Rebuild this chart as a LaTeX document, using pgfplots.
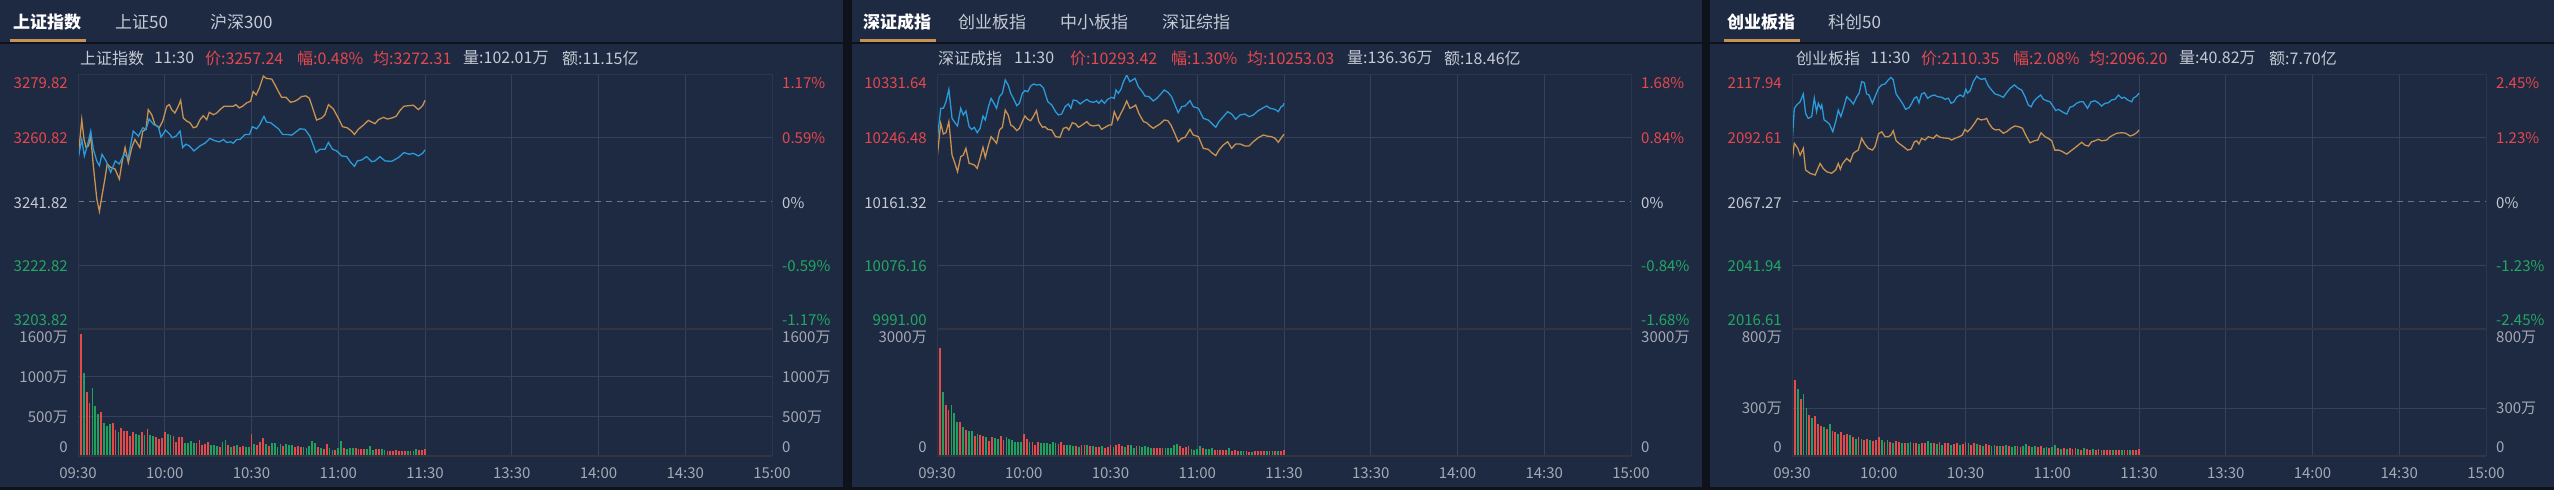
\documentclass[border=0pt]{standalone}
\usepackage{pgfplots}
\pgfplotsset{compat=1.18}
\usepackage{pgfplotstable}
\usepgfplotslibrary{fillbetween}
\usepackage{fontspec}
\setmainfont{Noto Sans CJK SC}

\definecolor{bgc}{HTML}{1E2942}
\definecolor{darkc}{HTML}{0D121B}
\definecolor{gridc}{HTML}{35405C}
\definecolor{framec}{HTML}{2C3549}
\definecolor{sepc}{HTML}{30353F}
\definecolor{bluec}{HTML}{2A9AD8}
\definecolor{orangec}{HTML}{C8924F}
\definecolor{redc}{HTML}{E5484D}
\definecolor{greenc}{HTML}{22A864}
\definecolor{barred}{HTML}{E44A4A}
\definecolor{bargreen}{HTML}{1FA05C}
\definecolor{txtc}{HTML}{C5CBD5}
\definecolor{labc}{HTML}{A3A9B5}
\definecolor{dashc}{HTML}{6E7482}
\definecolor{tabc}{HTML}{C89158}
\definecolor{fillA}{HTML}{22345C}

\newcommand\tabf{\fontsize{17}{20}\selectfont}
\newcommand\infof{\fontsize{16}{19}\selectfont}
\newcommand\labf{\fontsize{15}{18}\selectfont}

\tikzset{gline/.style={draw=gridc, line width=1pt}}
\pgfplotsset{
  base/.style={scale only axis, width=694pt, xmin=0, xmax=240, anchor=south west,
    axis line style={draw=none}, major tick length=0pt,
    xtick={30,60,...,210}, xticklabels={}, yticklabels={},
    major grid style={draw=gridc, line width=1pt}},
  pricepane/.style={base, height=255pt, ytick=\empty, xtick=\empty},
  volpane/.style={base, height=127pt, ymin=0, grid=major},
  pline/.style={bluec, line width=1.3pt, no marks},
  aline/.style={orangec, line width=1.3pt, no marks},
  vbar/.style={ycomb, no marks, line width=1.8pt},
  hidden/.style={draw=none, forget plot},
}

% ---------- 上证指数 ----------
\pgfplotstableread{
m p
0 3254.4
1.3 3260.3
2.2 3255.4
3.2 3258.4
4.4 3262.8
5.3 3257.4
6.5 3253.9
7.4 3252.5
8.3 3255.9
9.7 3253.9
11.3 3250.5
12.9 3253.9
14.3 3253.0
15.9 3255.9
17.4 3254.9
19.1 3262.8
20.9 3261.3
22.4 3263.8
23.5 3263.3
24.6 3266.4
26.1 3264.8
27.8 3264.1
28.7 3261.0
30.3 3263.1
31.8 3261.8
32.6 3260.8
33.9 3261.3
35.3 3262.8
36.2 3257.9
37.3 3258.9
38.5 3258.4
40.1 3256.9
42.2 3258.4
43.9 3259.2
45.6 3260.6
47.4 3259.9
48.9 3259.6
50.3 3260.3
51.4 3259.4
52.8 3259.6
53.7 3259.2
54.9 3260.3
56.0 3260.3
57.8 3261.8
59.3 3261.8
60.3 3264.1
61.8 3263.5
62.9 3264.8
64.3 3267.2
65.2 3265.5
66.6 3265.3
68.1 3264.3
69.3 3263.5
70.8 3261.8
72.2 3261.8
73.9 3261.6
75.0 3262.3
76.8 3263.5
78.5 3263.3
80.2 3261.3
82.3 3256.4
83.7 3257.4
85.4 3257.4
86.6 3259.4
88.0 3257.4
89.5 3256.9
91.2 3255.4
92.9 3255.2
94.3 3253.5
95.6 3252.3
96.6 3253.9
98.1 3254.2
99.8 3255.2
101.6 3253.7
102.7 3253.9
104.4 3255.2
106.2 3253.9
108.5 3253.8
110.8 3254.9
112.7 3256.4
114.6 3255.9
115.9 3256.2
117.7 3255.4
119.2 3256.2
120 3257.2
}\pA
\pgfplotstableread{
m p
0 3254.4
1.3 3266.2
2.1 3260.3
2.8 3257.9
3.6 3258.4
4.4 3261.3
5.3 3252.5
6.5 3242.6
7.4 3238.9
8.3 3243.6
9.3 3248.5
10.1 3253.0
11.3 3252.0
12.8 3251.5
14.3 3248.5
15.2 3253.4
16.3 3257.9
17.4 3253.4
18.6 3257.9
19.7 3260.3
21.4 3257.9
22.4 3262.8
23.5 3263.3
24.3 3269.2
25.5 3267.7
26.6 3264.8
28.1 3263.8
29.3 3265.8
30.7 3270.2
31.6 3270.7
32.4 3269.2
33.5 3268.2
34.7 3270.2
35.5 3272.0
36.4 3266.7
37.6 3265.8
38.7 3265.3
39.9 3263.8
41.0 3264.1
42.2 3266.2
43.3 3267.4
44.5 3266.2
45.4 3268.4
46.8 3267.7
48.0 3268.2
49.1 3269.2
50.5 3270.2
52.0 3270.2
53.7 3270.2
54.6 3270.7
55.8 3269.7
56.9 3270.2
58.3 3271.2
59.7 3271.7
60.6 3274.6
61.6 3273.6
62.7 3275.6
64.1 3279.2
65.2 3278.5
67.0 3278.3
68.1 3276.6
69.3 3274.6
70.4 3272.9
71.9 3272.9
73.5 3271.4
75.0 3271.7
76.2 3272.3
77.3 3273.1
78.8 3273.3
80.0 3272.6
81.4 3269.0
82.5 3266.1
84.3 3266.7
85.4 3267.7
86.6 3270.7
88.3 3269.4
90.0 3266.7
91.5 3264.1
93.1 3263.8
94.6 3262.8
95.6 3261.8
96.9 3263.3
98.7 3264.6
100.4 3266.0
101.6 3265.5
102.7 3265.0
103.9 3266.2
105.6 3266.9
107.0 3266.4
108.5 3266.7
110.0 3267.2
111.4 3269.0
112.7 3270.2
114.6 3270.4
116.0 3270.5
117.7 3269.2
119.2 3270.4
120 3272.0
}\aA

% ---------- 深证成指 ----------
\pgfplotstableread{
m p
0 10241.2
1.3 10285.8
2.2 10285.8
3.1 10294.7
4.1 10311.2
5.2 10272.4
6.2 10266.6
7.1 10262.2
8.2 10285.8
9.1 10276.9
10.0 10282.2
11.1 10261.3
12.0 10257.7
12.9 10260.4
13.9 10253.3
14.9 10259.1
15.9 10275.5
16.7 10270.2
17.8 10288.0
18.7 10299.1
19.7 10292.5
20.6 10285.8
21.6 10301.4
22.6 10305.8
23.6 10323.6
24.6 10316.9
25.5 10305.8
26.4 10299.1
27.6 10289.3
28.5 10292.5
29.5 10305.8
30.4 10309.4
31.4 10308.1
32.4 10315.6
33.4 10318.3
34.4 10316.9
35.6 10317.5
36.8 10313.0
38.3 10294.7
39.7 10290.2
41.0 10281.3
42.0 10276.9
43.1 10278.2
44.3 10288.0
45.4 10291.6
46.3 10285.8
47.1 10296.9
48.3 10296.0
49.5 10291.6
50.6 10294.7
51.8 10297.8
52.9 10294.7
54.1 10293.8
55.2 10295.6
56.0 10292.5
56.9 10296.9
57.9 10292.5
59.0 10297.8
60.4 10300.5
61.3 10299.1
61.9 10310.3
62.7 10305.8
63.6 10311.2
64.5 10321.4
65.6 10330.3
66.7 10321.4
67.6 10323.6
68.5 10325.8
69.6 10314.7
71.0 10308.1
71.9 10302.3
73.3 10301.4
74.8 10295.6
76.0 10299.1
77.1 10303.6
78.6 10310.3
80.0 10306.7
81.1 10301.4
82.3 10290.2
83.4 10280.0
84.6 10288.0
85.8 10288.9
87.5 10296.0
88.6 10288.0
90.4 10285.8
92.1 10272.4
93.8 10270.2
95.0 10265.7
96.4 10260.4
97.5 10268.0
99.0 10274.6
100.5 10281.3
101.9 10278.2
103.3 10271.1
104.8 10276.9
106.5 10278.2
107.9 10274.6
109.4 10276.9
111.1 10282.7
112.9 10286.7
114.0 10288.9
115.2 10285.8
116.9 10284.4
118.0 10281.3
119.0 10288.0
119.6 10288.9
120 10292.5
}\pB
\pgfplotstableread{
m p
0 10219.0
1.3 10265.7
2.2 10251.5
3.1 10253.3
4.1 10268.0
5.2 10223.4
6.2 10212.3
7.1 10201.2
8.2 10221.2
9.1 10223.4
10.0 10232.3
11.1 10212.3
12.0 10211.4
12.9 10210.1
13.9 10205.6
14.9 10219.0
15.9 10233.7
16.7 10220.3
17.8 10236.8
18.7 10247.9
19.7 10243.5
20.6 10239.0
21.6 10256.8
22.6 10260.4
23.6 10283.5
24.6 10276.9
25.5 10263.5
26.4 10261.3
27.6 10256.0
28.5 10259.1
29.5 10268.0
30.4 10275.5
31.4 10271.1
32.4 10269.3
33.4 10275.5
34.4 10282.7
35.2 10268.0
36.5 10260.4
37.3 10261.3
38.3 10257.7
39.7 10256.8
41.0 10247.9
42.5 10247.1
43.7 10259.1
44.8 10260.4
45.6 10256.8
46.8 10266.6
48.0 10264.8
48.9 10260.4
50.2 10263.5
51.8 10268.0
52.9 10263.5
54.1 10262.2
55.2 10263.1
56.0 10263.5
56.9 10257.7
58.1 10260.4
59.5 10263.5
60.4 10263.5
61.3 10281.3
62.5 10270.2
63.6 10279.1
64.5 10285.8
65.6 10295.6
66.7 10285.8
67.9 10288.0
68.7 10290.2
69.8 10279.1
71.4 10268.0
72.5 10266.6
73.7 10262.2
74.8 10259.1
76.0 10262.2
77.1 10264.8
78.6 10270.2
79.8 10269.3
80.9 10263.5
82.3 10251.5
83.4 10241.2
84.6 10245.7
85.8 10247.1
87.5 10257.7
88.6 10250.2
90.4 10247.9
92.1 10232.3
93.8 10231.0
95.0 10226.6
96.4 10222.6
97.5 10230.1
99.0 10236.8
100.5 10241.2
101.9 10232.3
103.3 10238.2
104.8 10238.2
106.5 10235.5
107.9 10235.5
109.4 10241.2
111.1 10246.6
112.9 10250.2
114.0 10248.8
115.7 10247.9
116.9 10245.7
118.0 10240.4
119.2 10247.1
120 10251.1
}\aB

% ---------- 创业板指 ----------
\pgfplotstableread{
m p
0 2089.7
0.8 2104.3
1.6 2105.6
2.8 2106.9
3.9 2110.0
4.7 2102.3
5.6 2100.3
6.8 2101.0
7.7 2108.3
8.5 2103.0
9.1 2106.3
9.9 2104.3
10.3 2105.6
11.1 2099.7
12.0 2099.0
12.9 2098.1
14.1 2095.0
15.1 2099.0
16.0 2103.6
16.9 2101.0
17.8 2104.3
18.9 2108.9
20.1 2107.6
21.2 2106.0
22.4 2108.9
23.2 2110.3
24.1 2114.9
25.0 2114.5
25.8 2110.0
26.6 2109.6
27.8 2106.3
28.7 2108.9
29.9 2112.2
31.0 2113.6
32.2 2114.0
33.3 2115.6
34.2 2116.6
35.0 2115.6
36.0 2110.0
37.0 2108.3
38.2 2106.3
39.3 2103.9
40.5 2104.6
41.4 2106.3
42.3 2108.3
43.1 2108.9
43.9 2106.5
44.8 2110.0
45.8 2110.5
46.9 2108.3
48.1 2109.2
49.2 2109.6
50.4 2108.9
51.8 2108.7
52.9 2107.9
54.1 2108.3
55.0 2106.3
56.0 2106.9
56.9 2108.7
58.1 2109.6
59.3 2108.9
60.1 2111.9
60.7 2110.3
61.6 2111.3
62.7 2114.9
63.9 2117.1
64.7 2116.2
65.6 2115.8
66.7 2116.2
67.9 2113.2
69.0 2111.6
70.2 2110.0
71.4 2109.6
73.1 2108.7
74.2 2110.5
75.4 2112.2
76.9 2113.6
78.3 2112.2
79.4 2111.6
80.6 2108.9
81.7 2105.6
82.7 2104.9
83.5 2106.9
84.6 2108.3
86.0 2109.6
86.9 2107.9
88.1 2107.3
89.2 2106.9
90.4 2104.9
91.2 2103.4
92.1 2103.9
93.3 2103.0
95.0 2102.0
96.1 2104.7
97.3 2105.2
98.4 2106.3
99.6 2106.9
100.7 2106.9
102.2 2104.3
103.4 2106.9
104.8 2107.3
105.9 2106.5
107.1 2105.2
108.2 2106.3
109.4 2106.5
110.5 2107.6
111.7 2107.9
112.9 2109.6
114.0 2108.3
114.9 2108.7
116.1 2107.6
117.5 2106.9
118.0 2108.3
119.2 2109.2
120 2110.3
}\pC
\pgfplotstableread{
m p
0 2083.1
0.8 2090.4
2.0 2088.4
2.8 2085.7
3.9 2088.4
4.7 2079.8
6.2 2078.5
8.0 2077.8
9.7 2082.4
10.8 2080.4
12.0 2079.1
13.7 2078.5
15.1 2079.8
16.0 2082.4
16.7 2080.1
17.4 2082.2
18.9 2084.4
20.1 2083.1
21.2 2086.4
22.0 2087.1
22.9 2087.7
24.1 2092.4
25.2 2090.1
26.4 2088.4
27.8 2087.7
28.7 2089.1
29.9 2094.1
31.0 2095.0
32.2 2093.0
33.3 2093.0
34.2 2093.7
35.0 2095.4
36.0 2091.4
37.3 2090.1
38.5 2089.1
40.0 2087.7
41.2 2088.1
42.3 2091.0
43.1 2091.4
43.9 2090.1
44.8 2092.4
46.0 2091.7
47.1 2093.0
48.9 2092.4
50.0 2093.7
51.2 2092.8
52.7 2092.5
54.1 2092.4
55.2 2091.7
56.4 2092.4
57.8 2093.0
58.9 2093.7
59.8 2095.9
60.7 2095.0
61.9 2096.4
63.1 2098.3
64.2 2100.3
65.4 2099.7
66.5 2099.9
67.3 2100.3
68.1 2098.3
69.3 2096.4
70.4 2095.7
71.6 2095.9
73.1 2094.4
74.2 2095.0
75.7 2096.4
77.1 2097.3
78.3 2097.0
79.7 2096.4
80.8 2093.7
82.3 2090.6
83.8 2091.4
85.0 2091.7
86.1 2094.6
87.5 2093.0
88.6 2092.4
89.8 2091.4
90.9 2087.7
92.3 2087.7
93.5 2087.1
95.0 2086.1
96.1 2087.1
97.6 2088.4
99.0 2089.7
100.2 2090.8
101.3 2089.7
102.5 2089.3
103.6 2091.0
104.8 2091.4
105.9 2092.0
107.1 2091.4
108.8 2091.7
110.0 2093.0
111.1 2093.7
112.3 2094.4
114.0 2094.6
115.4 2094.4
116.9 2093.3
118.0 2093.7
119.2 2094.6
120 2095.7
}\aC

\newcommand\ylabs[8]{%
  \node[anchor=east,redc] at (#1-10,83) {#2};
  \node[anchor=east,redc] at (#1-10,138) {#3};
  \node[anchor=east,txtc] at (#1-10,203) {#4};
  \node[anchor=east,greenc] at (#1-10,266) {#5};
  \node[anchor=east,greenc] at (#1-10,320) {#6};
  \node[anchor=west,redc] at (#1+704,83) {#7\%};
  \node[anchor=west,redc] at (#1+704,138) {#8\%};
  \node[anchor=west,txtc] at (#1+704,203) {0\%};
  \node[anchor=west,greenc] at (#1+704,266) {-#8\%};
  \node[anchor=west,greenc] at (#1+704,320) {-#7\%};
}
\newcommand\timelabs[1]{%
  \foreach \k/\t in {0/09:30,1/10:00,2/10:30,3/11:00,4/11:30,5/13:30,6/14:00,7/14:30,8/15:00}
    {\node[labc] at ({#1+\k*86.75},473) {\t};}
}
\newcommand\vlab[3]{%
  \node[anchor=east,labc] at (#1-10,#2) {#3};
  \node[anchor=west,labc] at (#1+704,#2) {#3};
}
\newcommand\frames[1]{%
  \draw[framec,line width=1pt] (#1,74.5) -- (#1+694,74.5);
  \draw[framec,line width=1pt] (#1+0.5,74) -- (#1+0.5,456);
  \draw[framec,line width=1pt] (#1+694,74) -- (#1+694,456);
  \draw[sepc,line width=2pt] (#1,329) -- (#1+694,329);
  \draw[sepc,line width=1.5pt] (#1,456) -- (#1+694,456);
}

\begin{document}
\begin{tikzpicture}[x=1pt,y=-1pt, every node/.style={font=\labf, inner sep=0pt}]
\fill[darkc] (0,0) rectangle (2554,490);
\fill[bgc] (0,0) rectangle (843,487);
\fill[bgc] (852,0) rectangle (1702,487);
\fill[bgc] (1710,0) rectangle (2554,487);
\fill[darkc] (0,41.5) rectangle (2554,44);

% ===== panel 1 =====
\begin{axis}[pricepane, at={(78pt,-329pt)}, ymin=3203.82, ymax=3279.82]
  \addplot[hidden, name path=p1] table {\pA};
  \addplot[hidden, name path=b1] coordinates {(0,3203.82) (120,3203.82)};
  \addplot[fill=fillA, draw=none] fill between[of=p1 and b1];
  \pgfplotsinvokeforeach{30,60,90,120,150,180,210}{\draw[gline] (axis cs:#1,3203.82) -- (axis cs:#1,3279.82);}
  \draw[gline] (axis cs:0,3222.82) -- (axis cs:240,3222.82);
  \draw[gline] (axis cs:0,3260.82) -- (axis cs:240,3260.82);
  \draw[dashc, dash pattern=on 6pt off 5pt, line width=1pt] (axis cs:0,3241.82) -- (axis cs:240,3241.82);
  \addplot[aline] table {\aA};
  \addplot[pline] table {\pA};
\end{axis}
\begin{axis}[volpane, at={(78pt,-456pt)}, ymax=1600, ytick={500,1000}]
  \addplot[vbar, barred] coordinates {(0,490) (1,1538) (3,809) (4,669) (8,551) (12,415) (13,322) (15,352) (16,318) (17,318) (18,254) (19,301) (22,305) (24,343) (27,237) (28,212) (29,233) (30,301) (33,246) (34,178) (35,242) (36,237) (41,161) (42,203) (43,144) (44,153) (45,174) (49,119) (52,136) (54,127) (56,119) (57,127) (60,275) (62,136) (63,182) (64,225) (66,127) (71,131) (75,119) (76,127) (77,119) (83,119) (85,93) (86,153) (89,76) (92,102) (96,102) (97,93) (98,89) (99,89) (103,89) (104,85) (107,64) (108,64) (109,64) (110,76) (111,64) (112,64) (113,64) (115,64) (118,76) (119,76) (120,93)};
  \addplot[vbar, bargreen] coordinates {(2,1051) (5,852) (6,627) (7,525) (9,415) (10,373) (11,403) (14,297) (20,275) (21,267) (23,263) (25,263) (26,258) (31,280) (32,267) (37,165) (38,161) (39,191) (40,169) (46,140) (47,136) (48,123) (50,182) (51,203) (53,119) (55,136) (58,119) (59,119) (61,153) (65,153) (67,161) (68,161) (69,119) (70,153) (72,148) (73,136) (74,144) (78,114) (79,97) (80,127) (81,195) (82,169) (84,106) (87,97) (88,76) (90,97) (91,186) (93,89) (94,102) (95,102) (100,85) (101,127) (102,76) (105,89) (106,76) (114,68) (116,68) (117,93)};
\end{axis}

% ===== panel 2 =====
\begin{axis}[pricepane, at={(937pt,-329pt)}, ymin=9991.00, ymax=10331.64]
  \addplot[hidden, name path=p2] table {\pB};
  \addplot[hidden, name path=b2] coordinates {(0,9991.00) (120,9991.00)};
  \addplot[fill=fillA, draw=none] fill between[of=p2 and b2];
  \pgfplotsinvokeforeach{30,60,90,120,150,180,210}{\draw[gline] (axis cs:#1,9991.00) -- (axis cs:#1,10331.64);}
  \draw[gline] (axis cs:0,10076.16) -- (axis cs:240,10076.16);
  \draw[gline] (axis cs:0,10246.48) -- (axis cs:240,10246.48);
  \draw[dashc, dash pattern=on 6pt off 5pt, line width=1pt] (axis cs:0,10161.32) -- (axis cs:240,10161.32);
  \addplot[aline] table {\aB};
  \addplot[pline] table {\pB};
\end{axis}
\begin{axis}[volpane, at={(937pt,-456pt)}, ymax=3000, ytick=\empty]
  \addplot[vbar, barred] coordinates {(0,756) (1,2559) (3,1197) (4,1087) (8,803) (10,614) (13,480) (15,488) (16,480) (18,354) (19,441) (22,472) (23,378) (30,520) (31,394) (33,331) (34,268) (35,331) (42,280) (43,340) (44,260) (48,230) (50,250) (51,260) (53,230) (55,220) (56,210) (58,200) (59,220) (60,260) (62,250) (63,280) (64,230) (66,260) (69,240) (75,200) (76,190) (77,190) (78,200) (84,230) (85,200) (86,210) (87,240) (92,180) (96,150) (97,140) (98,150) (99,140) (100,150) (102,120) (103,140) (104,130) (107,110) (108,100) (110,110) (111,120) (112,110) (113,110) (115,110) (117,120) (119,120) (120,140)};
  \addplot[vbar, bargreen] coordinates {(2,1504) (5,1197) (6,1008) (7,803) (9,693) (11,598) (12,598) (14,520) (17,457) (20,425) (21,394) (24,441) (25,402) (26,378) (27,323) (28,339) (29,331) (32,339) (36,315) (37,307) (38,300) (39,290) (40,330) (41,310) (45,250) (46,270) (47,240) (49,220) (52,250) (54,240) (57,230) (61,220) (65,210) (67,250) (68,200) (70,230) (71,220) (72,230) (73,210) (74,200) (79,180) (80,190) (81,200) (82,260) (83,280) (88,160) (89,150) (90,170) (91,240) (93,170) (94,170) (95,180) (101,180) (105,120) (106,130) (109,100) (114,120) (116,130) (118,110)};
\end{axis}

% ===== panel 3 =====
\begin{axis}[pricepane, at={(1792pt,-329pt)}, ymin=2016.61, ymax=2117.94]
  \addplot[hidden, name path=p3] table {\pC};
  \addplot[hidden, name path=b3] coordinates {(0,2016.61) (120,2016.61)};
  \addplot[fill=fillA, draw=none] fill between[of=p3 and b3];
  \pgfplotsinvokeforeach{30,60,90,120,150,180,210}{\draw[gline] (axis cs:#1,2016.61) -- (axis cs:#1,2117.94);}
  \draw[gline] (axis cs:0,2041.94) -- (axis cs:240,2041.94);
  \draw[gline] (axis cs:0,2092.61) -- (axis cs:240,2092.61);
  \draw[dashc, dash pattern=on 6pt off 5pt, line width=1pt] (axis cs:0,2067.27) -- (axis cs:240,2067.27);
  \addplot[aline] table {\aC};
  \addplot[pline] table {\pC};
\end{axis}
\begin{axis}[volpane, at={(1792pt,-456pt)}, ymax=800, ytick={300}]
  \addplot[vbar, barred] coordinates {(0,740) (1,480) (3,360) (6,260) (8,250) (9,200) (10,190) (12,170) (14,160) (15,150) (17,150) (18,130) (19,140) (21,120) (23,120) (25,100) (26,110) (28,95) (29,100) (30,120) (32,90) (34,90) (36,95) (37,90) (39,85) (42,85) (43,80) (45,85) (46,80) (49,80) (51,90) (53,80) (54,85) (56,75) (57,80) (59,75) (60,90) (62,70) (63,85) (65,70) (67,75) (68,70) (71,60) (73,60) (75,60) (78,65) (79,55) (82,60) (85,55) (86,60) (89,50) (92,50) (94,50) (96,50) (97,45) (98,50) (100,40) (102,45) (103,40) (105,40) (106,45) (108,35) (109,40) (110,35) (112,35) (113,35) (115,35) (116,40) (118,40) (119,35) (120,45)};
  \addplot[vbar, bargreen] coordinates {(2,420) (4,390) (5,300) (7,240) (11,180) (13,200) (16,140) (20,130) (22,110) (24,110) (27,100) (31,100) (33,100) (35,85) (38,80) (40,80) (41,90) (44,75) (47,95) (48,85) (50,75) (52,70) (55,70) (58,70) (61,80) (64,75) (66,65) (69,65) (70,70) (72,65) (74,70) (76,55) (77,60) (80,60) (81,75) (83,55) (84,60) (87,50) (88,55) (90,55) (91,70) (93,45) (95,45) (99,45) (101,50) (104,45) (107,40) (111,40) (114,40) (117,35)};
\end{axis}

% ===== frames and labels =====
\frames{78}\frames{937}\frames{1792}

\ylabs{78}{3279.82}{3260.82}{3241.82}{3222.82}{3203.82}{1.17}{0.59}
\ylabs{937}{10331.64}{10246.48}{10161.32}{10076.16}{9991.00}{1.68}{0.84}
\ylabs{1792}{2117.94}{2092.61}{2067.27}{2041.94}{2016.61}{2.45}{1.23}

\vlab{78}{337}{1600万}\vlab{78}{377}{1000万}\vlab{78}{417}{500万}\vlab{78}{447}{0}
\vlab{937}{337}{3000万}\vlab{937}{447}{0}
\vlab{1792}{337}{800万}\vlab{1792}{408}{300万}\vlab{1792}{447}{0}

\timelabs{78}\timelabs{937}\timelabs{1792}

% tabs
\begin{scope}[every node/.style={font=\tabf, inner sep=0pt, anchor=west}]
  \node[white] at (13,22) {\bfseries 上证指数};
  \node[txtc] at (115,22) {上证50};
  \node[txtc] at (210,22) {沪深300};
  \node[white] at (863,22) {\bfseries 深证成指};
  \node[txtc] at (958,22) {创业板指};
  \node[txtc] at (1060,22) {中小板指};
  \node[txtc] at (1162,22) {深证综指};
  \node[white] at (1727,22) {\bfseries 创业板指};
  \node[txtc] at (1828,22) {科创50};
\end{scope}
\fill[tabc] (10,38.5) rectangle (86,41.5);
\fill[tabc] (860,38.5) rectangle (936,41.5);
\fill[tabc] (1724,38.5) rectangle (1800,41.5);

% info lines
\begin{scope}[every node/.style={font=\infof, inner sep=0pt, anchor=west}]
  \node[txtc] at (80,58) {上证指数};
  \node[txtc] at (154,58) {11:30};
  \node[redc] at (205,58) {价:3257.24};
  \node[redc] at (297,58) {幅:0.48\%};
  \node[redc] at (373,58) {均:3272.31};
  \node[txtc] at (463,58) {量:102.01万};
  \node[txtc] at (562,58) {额:11.15亿};
  \node[txtc] at (938,58) {深证成指};
  \node[txtc] at (1014,58) {11:30};
  \node[redc] at (1070,58) {价:10293.42};
  \node[redc] at (1171,58) {幅:1.30\%};
  \node[redc] at (1247,58) {均:10253.03};
  \node[txtc] at (1347,58) {量:136.36万};
  \node[txtc] at (1444,58) {额:18.46亿};
  \node[txtc] at (1796,58) {创业板指};
  \node[txtc] at (1870,58) {11:30};
  \node[redc] at (1921,58) {价:2110.35};
  \node[redc] at (2013,58) {幅:2.08\%};
  \node[redc] at (2089,58) {均:2096.20};
  \node[txtc] at (2179,58) {量:40.82万};
  \node[txtc] at (2269,58) {额:7.70亿};
\end{scope}
\pgfresetboundingbox
\path[use as bounding box] (0,0) rectangle (2554,490);
\end{tikzpicture}
\end{document}
